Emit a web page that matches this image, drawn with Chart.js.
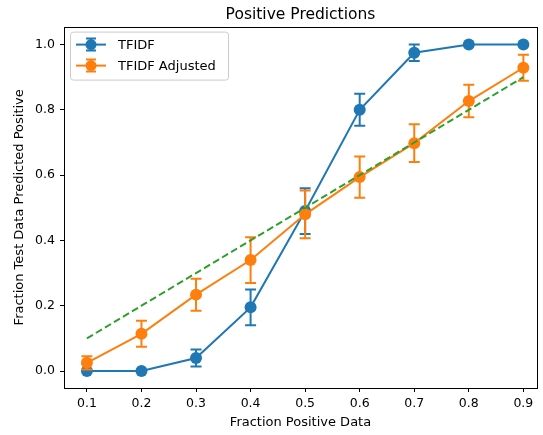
<!DOCTYPE html>
<html>
<head>
<meta charset="utf-8">
<script src="https://cdn.jsdelivr.net/npm/chart.js@4.4.1/dist/chart.umd.min.js"></script>
<style>
  html, body { margin: 0; padding: 0; background: #fff; }
  #wrap { width: 543px; height: 435px; }
</style>
</head>
<body>
<div id="wrap"><canvas id="chart" width="543" height="435"></canvas></div>
<script>
// --- DATA ---
const fractions = [0.1, 0.2, 0.3, 0.4, 0.5, 0.6, 0.7, 0.8, 0.9];
const tfidf = [0, 0, 0.04, 0.195, 0.49, 0.80, 0.975, 1.0, 1.0];
const tfidfErr = [0, 0, 0.026, 0.055, 0.07, 0.049, 0.025, 0, 0];
const adjusted = [0.025, 0.114, 0.234, 0.34, 0.48, 0.594, 0.698, 0.827, 0.929];
const adjustedErr = [0.02, 0.04, 0.049, 0.07, 0.073, 0.063, 0.058, 0.05, 0.04];
const ideal = [0.1, 0.2, 0.3, 0.4, 0.5, 0.6, 0.7, 0.8, 0.9];
const xTicks = [0.1, 0.2, 0.3, 0.4, 0.5, 0.6, 0.7, 0.8, 0.9];
const yTicks = [0.0, 0.2, 0.4, 0.6, 0.8, 1.0];

const FONT = "'DejaVu Sans', sans-serif";
const BLUE = '#1f77b4', ORANGE = '#ff7f0e', GREEN = '#2ca02c';

const toPoints = ys => fractions.map((x, i) => ({ x: x, y: ys[i] }));

// error bars drawn just before each dataset so markers sit on top
const errorBars = {
    id: 'errorBars',
    beforeDatasetDraw(chart, args) {
        const ds = chart.data.datasets[args.index];
        if (!ds.errors) return;
        const ctx = chart.ctx;
        const yScale = chart.scales.y;
        ctx.save();
        ctx.strokeStyle = ds.borderColor;
        ctx.lineWidth = 2;
        args.meta.data.forEach((pt, i) => {
            const e = ds.errors[i];
            if (!e) return;
            const v = ds.data[i].y;
            const top = yScale.getPixelForValue(v + e);
            const bot = yScale.getPixelForValue(v - e);
            ctx.beginPath();
            ctx.moveTo(pt.x, top); ctx.lineTo(pt.x, bot);
            ctx.moveTo(pt.x - 5.5, top); ctx.lineTo(pt.x + 5.5, top);
            ctx.moveTo(pt.x - 5.5, bot); ctx.lineTo(pt.x + 5.5, bot);
            ctx.stroke();
        });
        ctx.restore();
    }
};

// full box around the axes + matplotlib style legend
const frameAndLegend = {
    id: 'frameAndLegend',
    afterDraw(chart) {
        const ctx = chart.ctx;
        const a = chart.chartArea;
        ctx.save();
        ctx.strokeStyle = '#000';
        ctx.lineWidth = 1;
        ctx.strokeRect(Math.round(a.left) + 0.5, Math.round(a.top) + 0.5,
            Math.round(a.right - a.left), Math.round(a.bottom - a.top));

        // legend
        const lx = a.left + 6, ly = a.top + 5, lw = 158, lh = 48;
        ctx.beginPath();
        ctx.roundRect(lx + 0.5, ly + 0.5, lw, lh, 3);
        ctx.fillStyle = 'rgba(255,255,255,0.8)';
        ctx.fill();
        ctx.strokeStyle = '#cccccc';
        ctx.stroke();

        const items = chart.data.datasets.filter(d => d.errors);
        items.forEach((d, i) => {
            const cy = ly + 13 + i * 21;
            const x0 = lx + 6, x1 = lx + 36, cx = (x0 + x1) / 2;
            ctx.strokeStyle = d.borderColor;
            ctx.lineWidth = 2;
            ctx.beginPath();
            ctx.moveTo(x0, cy); ctx.lineTo(x1, cy);
            ctx.stroke();
            ctx.beginPath();
            ctx.moveTo(cx, cy - 6); ctx.lineTo(cx, cy + 6);
            ctx.moveTo(cx - 5, cy - 6); ctx.lineTo(cx + 5, cy - 6);
            ctx.moveTo(cx - 5, cy + 6); ctx.lineTo(cx + 5, cy + 6);
            ctx.stroke();
            ctx.fillStyle = d.borderColor;
            ctx.beginPath();
            ctx.arc(cx, cy, 5.5, 0, Math.PI * 2);
            ctx.fill();
            ctx.fillStyle = '#000';
            ctx.font = '13px ' + FONT;
            ctx.textBaseline = 'middle';
            ctx.fillText(d.label, lx + 48, cy + 1);
        });
        ctx.restore();
    }
};

const ctx = document.getElementById('chart').getContext('2d');
const chart = new Chart(ctx, {
    type: 'line',
    data: {
        datasets: [
            {
                label: 'TFIDF',
                data: toPoints(tfidf),
                errors: tfidfErr,
                borderColor: BLUE,
                backgroundColor: BLUE,
                borderWidth: 2,
                pointRadius: 6,
                pointBorderWidth: 0,
                tension: 0,
                order: 2
            },
            {
                label: 'TFIDF Adjusted',
                data: toPoints(adjusted),
                errors: adjustedErr,
                borderColor: ORANGE,
                backgroundColor: ORANGE,
                borderWidth: 2,
                pointRadius: 6,
                pointBorderWidth: 0,
                tension: 0,
                order: 1
            },
            {
                label: 'ideal',
                data: toPoints(ideal),
                borderColor: GREEN,
                borderWidth: 2,
                borderDash: [7, 3.5],
                pointRadius: 0,
                tension: 0,
                order: 0
            }
        ]
    },
    options: {
        responsive: false,
        animation: false,
        events: [],
        layout: { padding: { left: 0, right: 3, top: 0, bottom: 0 } },
        plugins: {
            legend: { display: false },
            tooltip: { enabled: false },
            title: {
                display: true,
                text: 'Positive Predictions',
                fullSize: false,
                color: '#000',
                font: { family: FONT, size: 15.5, weight: 'normal' },
                padding: { top: 6, bottom: 2 }
            }
        },
        scales: {
            x: {
                type: 'linear',
                min: 0.058,
                max: 0.925,
                afterBuildTicks: s => { s.ticks = xTicks.map(v => ({ value: v })); },
                afterFit: s => { s.height = 47; },
                ticks: {
                    color: '#000',
                    font: { family: FONT, size: 12.5 },
                    padding: 4,
                    maxRotation: 0,
                    callback: v => v.toFixed(1)
                },
                grid: { drawOnChartArea: false, drawTicks: true, tickLength: 4, color: '#000' },
                border: { display: false },
                title: {
                    display: true,
                    text: 'Fraction Positive Data',
                    color: '#000',
                    font: { family: FONT, size: 13 },
                    padding: { top: 0, bottom: 5 }
                }
            },
            y: {
                type: 'linear',
                min: -0.052,
                max: 1.055,
                afterBuildTicks: s => { s.ticks = yTicks.map(v => ({ value: v })); },
                afterFit: s => { s.width = 64; },
                ticks: {
                    color: '#000',
                    font: { family: FONT, size: 12.5 },
                    padding: 5,
                    callback: v => v.toFixed(1)
                },
                grid: { drawOnChartArea: false, drawTicks: true, tickLength: 4, color: '#000' },
                border: { display: false },
                title: {
                    display: true,
                    text: 'Fraction Test Data Predicted Positive',
                    color: '#000',
                    font: { family: FONT, size: 13 },
                    padding: { top: 12, bottom: 0 }
                }
            }
        }
    },
    plugins: [errorBars, frameAndLegend]
});
</script>
</body>
</html>
